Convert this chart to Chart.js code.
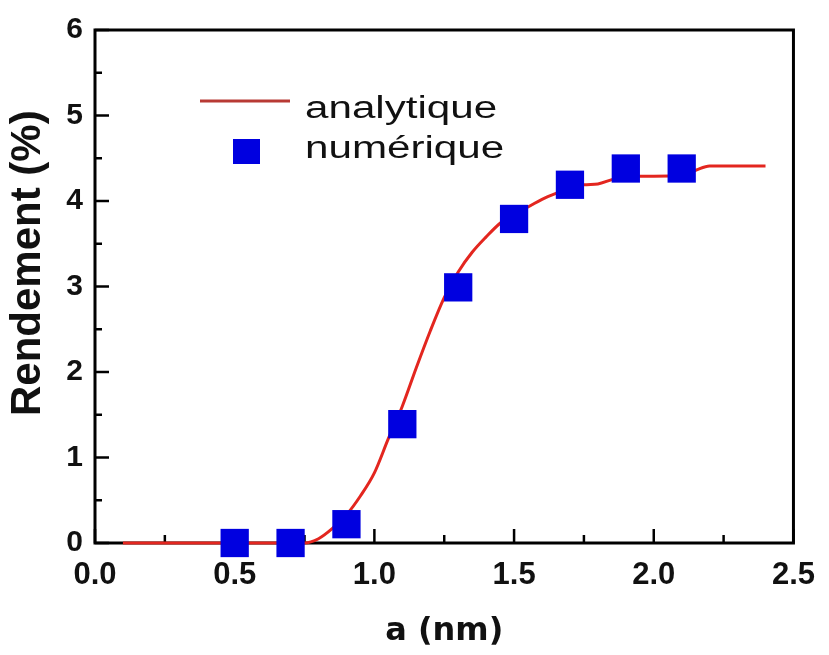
<!DOCTYPE html>
<html>
<head>
<meta charset="utf-8">
<script src="https://cdn.jsdelivr.net/npm/chart.js@4"></script>
<style>
  body { margin: 0; background: #fff; }
  canvas { display: block; }
</style>
</head>
<body>
<canvas id="chart" width="829" height="655"></canvas>
<script>
// analytique (curve)
const curveX = [0.1, 0.4, 0.7, 0.75, 0.8, 0.85, 0.9, 0.95, 1.0, 1.05, 1.1, 1.15, 1.2, 1.25, 1.3, 1.35, 1.4, 1.45, 1.5, 1.55, 1.6, 1.65, 1.7, 1.75, 1.8, 1.85, 1.9, 2.0, 2.1, 2.15, 2.2, 2.3, 2.4];
const curveY = [0, 0, 0, 0, 0.05, 0.17, 0.33, 0.55, 0.82, 1.22, 1.6, 2.05, 2.48, 2.87, 3.17, 3.4, 3.58, 3.74, 3.85, 3.93, 4.02, 4.09, 4.15, 4.19, 4.2, 4.25, 4.29, 4.29, 4.3, 4.36, 4.41, 4.41, 4.41];

// numérique (squares)
const numX = [0.5, 0.7, 0.9, 1.1, 1.3, 1.5, 1.7, 1.9, 2.1];
const numY = [0, 0, 0.22, 1.39, 2.99, 3.79, 4.19, 4.38, 4.38];

const seriesNames = ["analytique", "numérique"];
const xTitle = "a (nm)";
const yTitle = "Rendement (%)";

const RED = "#e3261f";
const BLUE = "#0000e0";

const toPoints = (xs, ys) => xs.map((x, i) => ({ x: x, y: ys[i] }));

// box round the plot + inward ticks, drawn under the data
const framePlugin = {
  id: "frame",
  beforeDatasetsDraw(chart) {
    const { ctx, chartArea: a, scales } = chart;
    ctx.save();
    ctx.strokeStyle = "#000";
    ctx.lineWidth = 3;
    ctx.strokeRect(a.left, a.top, a.right - a.left, a.bottom - a.top);
    ctx.lineWidth = 2.5;
    const xs = scales.x, ys = scales.y;
    xs.ticks.forEach((t, i) => {
      const px = xs.getPixelForValue(t.value);
      ctx.beginPath(); ctx.moveTo(px, a.bottom); ctx.lineTo(px, a.bottom - 14); ctx.stroke();
      if (i < xs.ticks.length - 1) {
        const mx = xs.getPixelForValue((t.value + xs.ticks[i + 1].value) / 2);
        ctx.beginPath(); ctx.moveTo(mx, a.bottom); ctx.lineTo(mx, a.bottom - 8); ctx.stroke();
      }
    });
    ys.ticks.forEach((t, i) => {
      const py = ys.getPixelForValue(t.value);
      ctx.beginPath(); ctx.moveTo(a.left, py); ctx.lineTo(a.left + 14, py); ctx.stroke();
      if (i < ys.ticks.length - 1) {
        const my = ys.getPixelForValue((t.value + ys.ticks[i + 1].value) / 2);
        ctx.beginPath(); ctx.moveTo(a.left, my); ctx.lineTo(a.left + 7, my); ctx.stroke();
      }
    });
    ctx.restore();
  }
};

// legend inside the plot, upper left
const legendPlugin = {
  id: "insideLegend",
  afterDatasetsDraw(chart) {
    const ctx = chart.ctx;
    const ds = chart.data.datasets;
    ctx.save();
    // line sample
    ctx.strokeStyle = "#b83a34";
    ctx.lineWidth = 3;
    ctx.beginPath(); ctx.moveTo(200, 101); ctx.lineTo(290, 101); ctx.stroke();
    // square sample
    ctx.fillStyle = ds[1].backgroundColor;
    ctx.fillRect(233, 139, 27, 25);
    ctx.fillStyle = "#111";
    ctx.font = "31px 'Liberation Sans', Arial, sans-serif";
    ctx.textBaseline = "alphabetic";
    [[ds[0].label, 118], [ds[1].label, 158]].forEach(([txt, y]) => {
      ctx.save();
      ctx.translate(305, y);
      ctx.scale(1.36, 1);
      ctx.fillText(txt, 0, 0);
      ctx.restore();
    });
    ctx.restore();
  }
};

new Chart(document.getElementById("chart"), {
  type: "scatter",
  data: {
    datasets: [
      {
        label: seriesNames[0],
        data: toPoints(curveX, curveY),
        showLine: true,
        borderColor: RED,
        borderWidth: 3,
        pointRadius: 0,
        cubicInterpolationMode: "monotone",
        clip: false,
        order: 2
      },
      {
        label: seriesNames[1],
        data: toPoints(numX, numY),
        showLine: false,
        pointStyle: "rect",
        pointRadius: 20,
        backgroundColor: BLUE,
        borderColor: BLUE,
        borderWidth: 0,
        clip: false,
        order: 1
      }
    ]
  },
  options: {
    responsive: false,
    animation: false,
    devicePixelRatio: 1,
    layout: { padding: { top: 20, right: 32, left: 0, bottom: 0 } },
    plugins: {
      legend: { display: false },
      tooltip: { enabled: false }
    },
    scales: {
      x: {
        type: "linear",
        min: 0,
        max: 2.5,
        afterFit: (s) => { s.height = 112; },
        grid: { display: false, drawTicks: false },
        border: { display: false },
        ticks: {
          stepSize: 0.5,
          padding: 14,
          color: "#111",
          maxRotation: 0,
          font: { family: "'Liberation Sans', Arial, sans-serif", size: 31, weight: "bold" },
          callback: (v) => Number(v).toFixed(1)
        },
        title: {
          display: true,
          text: xTitle,
          color: "#111",
          padding: { top: 0, bottom: 4 },
          font: { family: "'DejaVu Sans', sans-serif", size: 32, weight: "bold" }
        }
      },
      y: {
        min: 0,
        max: 6,
        afterFit: (s) => { s.width = 95; },
        grid: { display: false, drawTicks: false },
        border: { display: false },
        ticks: {
          stepSize: 1,
          padding: 12,
          color: "#111",
          font: { family: "'Liberation Sans', Arial, sans-serif", size: 30, weight: "bold" }
        },
        title: {
          display: true,
          // leading spaces nudge the rotated title a little towards the top
          text: "    " + yTitle,
          color: "#111",
          padding: { top: 7, bottom: 0 },
          font: { family: "'Liberation Sans', Arial, sans-serif", size: 42, weight: "bold", lineHeight: 1 }
        }
      }
    }
  },
  plugins: [framePlugin, legendPlugin]
});
</script>
</body>
</html>
